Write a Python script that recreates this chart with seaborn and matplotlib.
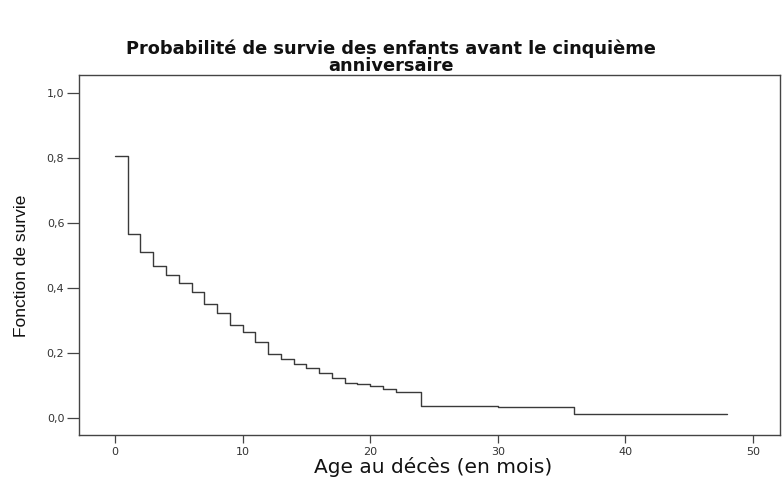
import seaborn as sns
import pandas as pd
from matplotlib import pyplot as plt

# Kaplan-Meier estimate (months, survival)
months = [0, 1, 2, 3, 4, 5, 6, 7, 8, 9, 10, 11, 12, 13, 14, 15, 16, 17,
          18, 19, 20, 21, 22, 24, 30, 36, 48]
survival = [0.807, 0.565, 0.512, 0.468, 0.440, 0.414, 0.387, 0.350, 0.322,
            0.286, 0.265, 0.232, 0.196, 0.180, 0.166, 0.152, 0.138, 0.124,
            0.108, 0.103, 0.098, 0.090, 0.080, 0.037, 0.032, 0.0105, 0.0105]

x_ticks = [0, 10, 20, 30, 40, 50]
y_ticks = [0.0, 0.2, 0.4, 0.6, 0.8, 1.0]
y_tick_labels = ['0,0', '0,2', '0,4', '0,6', '0,8', '1,0']

title = 'Probabilité de survie des enfants avant le cinquième\nanniversaire'
x_label = 'Age au décès (en mois)'
y_label = 'Fonction de survie'

df = pd.DataFrame({'months': months, 'survival': survival})

sns.set_theme(style='ticks')
plt.rcParams['font.family'] = ['DejaVu Sans']

fig = plt.figure(figsize=(7.82, 4.79), dpi=100)
ax = fig.add_axes([0.101, 0.092, 0.896, 0.751])

sns.lineplot(
    x='months',
    y='survival',
    data=df,
    drawstyle='steps-post',
    color='#3a3a3a',
    linewidth=1.0,
    ax=ax
)

ax.set_xlim(-2.82, 52.1)
ax.set_ylim(-0.053, 1.056)
ax.set_xticks(x_ticks)
ax.set_xticklabels([str(t) for t in x_ticks], fontsize=8, color='#333333')
ax.set_yticks(y_ticks)
ax.set_yticklabels(y_tick_labels, fontsize=8, color='#333333')
ax.tick_params(axis='y', length=8.6, width=0.9, color='#444444', pad=2)
ax.tick_params(axis='x', length=5.6, width=0.9, color='#444444', pad=3)

for spine in ax.spines.values():
    spine.set_visible(True)
    spine.set_color('#444444')
    spine.set_linewidth(1.0)

ax.set_xlabel(x_label, fontsize=14.5, color='#111111')
ax.xaxis.set_label_coords(0.505, -0.062)
ax.set_ylabel(y_label, fontsize=12.5, color='#111111',
              family=['Liberation Sans Narrow', 'Liberation Sans'])
ax.yaxis.set_label_coords(-0.072, 0.47)

fig.suptitle(title, x=0.5, y=0.918, fontsize=12.8, fontweight='bold',
             linespacing=0.95, color='#111111')

plt.savefig('out.png', dpi=100)
